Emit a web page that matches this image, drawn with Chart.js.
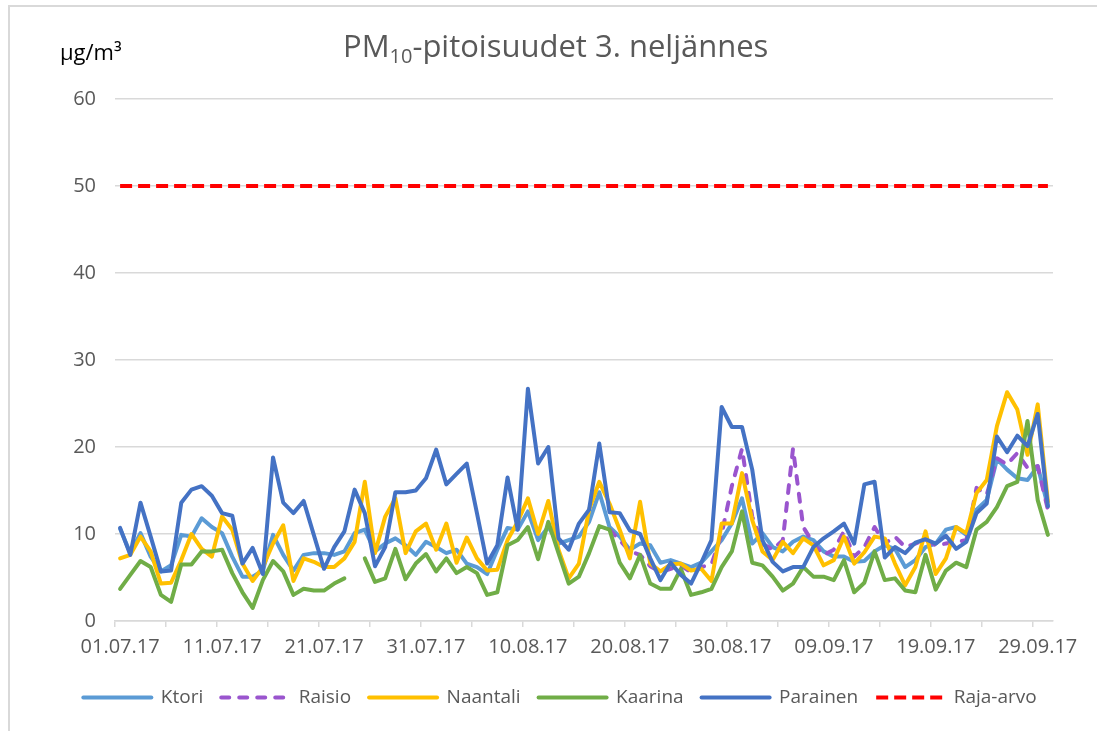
<!DOCTYPE html>
<html>
<head>
<meta charset="utf-8">
<script src="https://cdn.jsdelivr.net/npm/chart.js@4.4.0/dist/chart.umd.min.js"></script>
<style>
  html, body { margin: 0; padding: 0; background: #fff; overflow: hidden; }
  #wrap { position: relative; width: 1097px; height: 731px; }
  #frame { position: absolute; left: 8px; top: 5px; width: 1300px; height: 900px; border: 2px solid #d9d9d9; box-sizing: border-box; }
  #chart { position: absolute; left: 0; top: 0; }
  .title { position: absolute; left: 343px; top: 30px; font: 31px/30px 'Open Sans', sans-serif; color: #595959; white-space: nowrap; }
  .title span { font-size: 20px; vertical-align: -6px; }
  .unit { position: absolute; left: 60px; top: 40px; font: 22px/22px 'Open Sans', sans-serif; color: #000; white-space: nowrap; }
</style>
</head>
<body>
<div id="wrap">
  <div id="frame"></div>
  <canvas id="chart" width="1097" height="731"></canvas>
  <div class="title">PM<span>10</span>-pitoisuudet 3. neljännes</div>
  <div class="unit">µg/m³</div>
</div>
<script>
// paivat 01.07.17 - 30.09.17
const days = [];
for (let d = new Date(2017, 6, 1); d <= new Date(2017, 8, 30); d.setDate(d.getDate() + 1)) {
  const dd = String(d.getDate()).padStart(2, '0');
  const mm = String(d.getMonth() + 1).padStart(2, '0');
  days.push(dd + '.' + mm + '.17');
}

const ktori = [
  10.6, 7.8, 10.1, 7.4, 5.7, 6.4, 9.9, 9.7, 11.8, 10.8,
  10.1, 7.4, 5.1, 5.1, 5.8, 9.9, 7.6, 5.8, 7.6, 7.8,
  7.8, 7.6, 8.0, 10.1, 10.5, 8.0, 8.9, 9.5, 8.7, 7.6,
  9.1, 8.5, 7.8, 8.2, 6.6, 6.2, 5.4, 8.2, 10.7, 10.5,
  12.6, 9.3, 10.8, 8.9, 9.3, 9.7, 11.4, 14.8, 10.8, 9.7,
  8.2, 8.9, 8.7, 6.7, 7.0, 6.6, 6.2, 6.7, 8.0, 9.3,
  11.2, 14.1, 8.9, 10.1, 8.5, 8.0, 9.1, 9.7, 9.3, 8.0,
  7.4, 7.4, 6.8, 6.9, 8.0, 8.7, 8.3, 6.2, 7.0, 8.5,
  8.9, 10.5, 10.8, 9.9, 12.8, 13.9, 18.6, 17.4, 16.4, 16.2,
  17.8, 13.2
];
const raisio = [
  null, null, null, null, null, null, null, null, null, null,
  null, null, null, null, null, null, null, null, null, null,
  null, null, null, null, null, null, null, null, null, null,
  null, null, null, null, null, null, null, null, null, null,
  null, null, null, null, null, null, null, null, 10.5, 9.3,
  8.0, 7.6, 6.3, 5.6, 6.0, 6.4, 5.6, 6.2, 6.5, 10.0,
  15.5, 19.8, 12.0, 8.9, 8.2, 9.3, 19.8, 10.8, 8.9, 7.6,
  8.2, 10.3, 7.4, 8.5, 10.8, 8.9, 9.7, 8.5, 8.9, 9.3,
  8.7, 8.9, 9.1, 9.3, 15.3, 14.5, 18.7, 18.0, 19.3, 17.6,
  17.8, 12.8
];
const naantali = [
  7.2, 7.6, 9.7, 8.0, 4.3, 4.4, 7.0, 10.0, 8.3, 7.4,
  12.0, 10.5, 6.6, 4.6, 6.2, 8.9, 11.0, 4.6, 7.2, 6.8,
  6.2, 6.2, 7.2, 9.1, 16.0, 7.8, 12.0, 14.1, 7.8, 10.3,
  11.2, 8.2, 11.2, 6.7, 9.6, 7.2, 5.8, 5.9, 9.3, 11.4,
  14.1, 10.0, 13.8, 8.2, 4.9, 6.6, 12.8, 16.0, 13.5, 10.5,
  7.2, 13.7, 6.6, 5.7, 6.5, 6.6, 5.8, 6.0, 4.6, 11.2,
  11.2, 17.0, 11.6, 8.0, 7.0, 9.1, 7.8, 9.5, 8.7, 6.4,
  7.0, 9.7, 6.6, 7.9, 9.7, 9.5, 6.6, 4.1, 6.2, 10.3,
  5.4, 7.2, 10.8, 10.1, 14.7, 16.2, 22.4, 26.3, 24.3, 19.1,
  24.9, 13.7
];
const kaarina = [
  3.7, 5.3, 6.9, 6.2, 3.0, 2.2, 6.5, 6.5, 8.0, 8.0,
  8.2, 5.5, 3.3, 1.5, 4.7, 6.9, 5.7, 3.0, 3.7, 3.5,
  3.5, 4.3, 4.9, null, 7.2, 4.5, 4.9, 8.3, 4.8, 6.6,
  7.7, 5.7, 7.2, 5.5, 6.2, 5.5, 3.0, 3.3, 8.7, 9.3,
  10.8, 7.1, 11.4, 7.8, 4.3, 5.1, 7.8, 10.9, 10.5, 6.7,
  4.9, 7.6, 4.3, 3.7, 3.7, 6.0, 3.0, 3.3, 3.7, 6.2,
  8.0, 12.6, 6.7, 6.4, 5.1, 3.5, 4.3, 6.2, 5.1, 5.1,
  4.7, 7.0, 3.3, 4.4, 8.0, 4.7, 4.9, 3.5, 3.3, 7.6,
  3.6, 5.8, 6.7, 6.2, 10.5, 11.4, 13.1, 15.5, 16.0, 23.0,
  13.9, 9.9
];
const parainen = [
  10.7, 7.6, 13.6, 9.7, 5.7, 5.8, 13.6, 15.1, 15.5, 14.4,
  12.4, 12.1, 6.6, 8.4, 5.4, 18.8, 13.6, 12.4, 13.8, 9.9,
  6.0, 8.5, 10.3, 15.1, 12.4, 6.3, 8.5, 14.8, 14.8, 15.0,
  16.4, 19.7, 15.7, 16.9, 18.1, 12.4, 6.6, 8.7, 16.5, 10.5,
  26.7, 18.1, 20.0, 9.5, 8.2, 11.2, 12.8, 20.4, 12.5, 12.4,
  10.4, 10.0, 7.2, 4.7, 6.7, 5.3, 4.3, 6.7, 9.3, 24.6,
  22.3, 22.3, 17.4, 9.3, 6.8, 5.7, 6.2, 6.2, 8.5, 9.5,
  10.3, 11.2, 8.9, 15.7, 16.0, 7.3, 8.5, 7.8, 9.0, 9.4,
  8.9, 9.8, 8.3, 9.1, 12.4, 13.5, 21.2, 19.4, 21.3, 20.1,
  23.8, 13.2
];
const rajaArvo = 50;
const yTicks = [0, 10, 20, 30, 40, 50, 60];

Chart.defaults.font.family = "'Open Sans', sans-serif";
Chart.defaults.color = '#595959';

function serie(label, data, color, order, dash, cap) {
  return {
    label: label,
    data: data,
    borderColor: color,
    backgroundColor: color,
    borderWidth: 4,
    borderDash: dash || [],
    borderCapStyle: cap || 'round',
    borderJoinStyle: 'round',
    pointRadius: 0,
    pointHoverRadius: 0,
    tension: 0,
    order: order,
    yAxisID: 'y'
  };
}

// legend naytteet samalla viivatyylilla kuin sarjat
function legendLabels(chart) {
  const items = Chart.defaults.plugins.legend.labels.generateLabels(chart);
  items.forEach((item) => {
    const ds = chart.data.datasets[item.datasetIndex];
    item.strokeStyle = ds.borderColor;
    item.fillStyle = ds.borderColor;
    item.lineWidth = ds.borderWidth;
    item.lineDash = ds.borderDash;
    item.lineCap = ds.borderCapStyle;
    item.pointStyle = 'line';
  });
  return items;
}

new Chart(document.getElementById('chart'), {
  type: 'line',
  data: {
    labels: days,
    datasets: [
      serie('Ktori', ktori, '#5B9BD5', 5),
      serie('Raisio', raisio, '#9A55CE', 4, [8, 10], 'round'),
      serie('Naantali', naantali, '#FFC000', 3),
      serie('Kaarina', kaarina, '#70AD47', 2),
      serie('Parainen', parainen, '#4472C4', 1),
      serie('Raja-arvo', days.map(() => rajaArvo), '#FF0000', 0, [12, 6], 'butt')
    ]
  },
  options: {
    responsive: false,
    animation: false,
    devicePixelRatio: 1,
    layout: { padding: { left: 23, right: 0, top: 99, bottom: 14 } },
    plugins: {
      title: { display: false },
      tooltip: { enabled: false },
      legend: {
        position: 'bottom',
        labels: {
          usePointStyle: true,
          pointStyle: 'line',
          pointStyleWidth: 68,
          boxHeight: 19,
          padding: 18,
          color: '#595959',
          font: { size: 19 },
          generateLabels: legendLabels,
          sort: (a, b) => a.datasetIndex - b.datasetIndex
        }
      }
    },
    scales: {
      x: {
        offset: true,
        afterFit: (scale) => { scale.height = 49; },
        grid: {
          offset: true,
          drawOnChartArea: false,
          tickLength: 6,
          lineWidth: 1.5,
          color: (ctx) => ctx.index % 5 === 0 ? '#d9d9d9' : 'rgba(0,0,0,0)'
        },
        border: { display: true, color: '#d9d9d9', width: 1.5 },
        ticks: {
          autoSkip: false,
          maxRotation: 0,
          padding: 8,
          font: { size: 20 },
          callback: function(value, index) {
            return index % 10 === 0 ? this.getLabelForValue(value) : '';
          }
        }
      },
      y: {
        min: 0,
        max: 60,
        afterFit: (scale) => { scale.width = 92; },
        afterBuildTicks: (scale) => { scale.ticks = yTicks.map(v => ({ value: v })); },
        grid: { color: '#d9d9d9', lineWidth: 1.5, drawTicks: false },
        border: { display: false },
        ticks: { padding: 19, font: { size: 20 } }
      },
      // tyhja oikea akseli pitaa piirtoalueen oikean reunan paikallaan
      yRight: {
        position: 'right',
        afterFit: (scale) => { scale.width = 44; },
        grid: { display: false },
        border: { display: false },
        ticks: { display: false }
      }
    }
  }
});
</script>
</body>
</html>
